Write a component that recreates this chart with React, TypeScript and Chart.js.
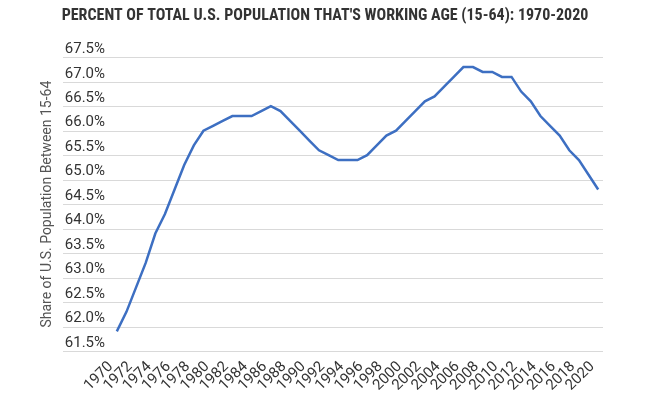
import React, { useEffect, useRef } from 'react';
import { Chart, registerables } from 'chart.js';

Chart.register(...registerables);

const chartTitle = "PERCENT OF TOTAL U.S. POPULATION THAT'S WORKING AGE (15-64): 1970-2020";
const yAxisTitle = 'Share of U.S. Population Between 15-64';

const years = [
  '1970', '1971', '1972', '1973', '1974', '1975', '1976', '1977', '1978', '1979',
  '1980', '1981', '1982', '1983', '1984', '1985', '1986', '1987', '1988', '1989',
  '1990', '1991', '1992', '1993', '1994', '1995', '1996', '1997', '1998', '1999',
  '2000', '2001', '2002', '2003', '2004', '2005', '2006', '2007', '2008', '2009',
  '2010', '2011', '2012', '2013', '2014', '2015', '2016', '2017', '2018', '2019',
  '2020',
];

const workingAgeShare = [
  61.9, 62.3, 62.8, 63.3, 63.9, 64.3, 64.8, 65.3, 65.7, 66.0,
  66.1, 66.2, 66.3, 66.3, 66.3, 66.4, 66.5, 66.4, 66.2, 66.0,
  65.8, 65.6, 65.5, 65.4, 65.4, 65.4, 65.5, 65.7, 65.9, 66.0,
  66.2, 66.4, 66.6, 66.7, 66.9, 67.1, 67.3, 67.3, 67.2, 67.2,
  67.1, 67.1, 66.8, 66.6, 66.3, 66.1, 65.9, 65.6, 65.4, 65.1,
  64.8,
];

const xTickYears = [
  '1970', '1972', '1974', '1976', '1978', '1980', '1982', '1984', '1986', '1988',
  '1990', '1992', '1994', '1996', '1998', '2000', '2002', '2004', '2006', '2008',
  '2010', '2012', '2014', '2016', '2018', '2020',
];

const yMin = 61.5;
const yMax = 67.5;
const yStep = 0.5;

function pickTitleFont(): { family: string; size: number } {
  const ctx = document.createElement('canvas').getContext('2d');
  const target = 550;
  if (!ctx) return { family: 'Roboto', size: 13 };
  const probe = 'PERCENT OF TOTAL ABCDEFGHWM 0123456789';
  const candidates = ['Roboto Condensed', 'Liberation Sans Narrow', 'DejaVu Sans Condensed'];
  let family = 'Roboto';
  for (const c of candidates) {
    ctx.font = `bold 20px monospace`;
    const a = ctx.measureText(probe).width;
    ctx.font = `bold 20px "${c}", monospace`;
    const b = ctx.measureText(probe).width;
    if (Math.abs(a - b) > 0.5) {
      family = c;
      break;
    }
  }
  ctx.font = `bold 15px "${family}"`;
  const w = ctx.measureText(chartTitle).width;
  let size = (15 * target) / w;
  size = Math.max(11, Math.min(16, size));
  return { family, size };
}

const extendedGrid = {
  id: 'extendedGrid',
  beforeDatasetsDraw(chart: any) {
    const { ctx, chartArea, scales } = chart;
    const y = scales.y;
    ctx.save();
    ctx.strokeStyle = '#d9d9d9';
    ctx.lineWidth = 1;
    y.ticks.forEach((t: any) => {
      const py = Math.round(y.getPixelForValue(t.value)) + 0.5;
      ctx.beginPath();
      ctx.moveTo(chartArea.left - 49, py);
      ctx.lineTo(chartArea.right, py);
      ctx.stroke();
    });
    ctx.restore();
  },
};

export default function App() {
  const canvasRef = useRef<HTMLCanvasElement | null>(null);

  useEffect(() => {
    if (!canvasRef.current) return;
    const tf = pickTitleFont();
    const titleTop = 16 - 0.6 * tf.size;
    const titleBottom = 57.3 - titleTop - 1.2 * tf.size;

    const chart = new Chart(canvasRef.current, {
      type: 'line',
      data: {
        labels: years,
        datasets: [
          {
            data: workingAgeShare,
            borderColor: '#3d6fc2',
            borderWidth: 2.5,
            pointRadius: 0,
            tension: 0,
            fill: false,
          },
        ],
      },
      plugins: [extendedGrid],
      options: {
        responsive: false,
        animation: false,
        layout: { padding: { top: 0, right: 0, bottom: 0, left: 0 } },
        plugins: {
          legend: { display: false },
          tooltip: { enabled: false },
          title: {
            display: true,
            text: chartTitle,
            color: '#333333',
            font: { family: tf.family, size: tf.size, weight: 'bold' },
            padding: { top: titleTop, bottom: titleBottom },
          },
        },
        scales: {
          x: {
            type: 'category',
            offset: true,
            grid: { display: false, drawTicks: false },
            border: { display: false },
            ticks: {
              autoSkip: false,
              minRotation: 45,
              maxRotation: 45,
              padding: 7,
              labelOffset: -6,
              color: '#333333',
              font: { family: 'Roboto', size: 15 },
              callback: (_v: any, i: number) => (xTickYears.includes(years[i]) ? years[i] : ''),
            },
            afterFit: (s: any) => {
              s.height = 51;
            },
          },
          y: {
            type: 'linear',
            position: 'left',
            min: yMin,
            max: yMax,
            grid: { display: false, drawTicks: false },
            border: { display: false },
            ticks: {
              stepSize: yStep,
              padding: 7,
              labelOffset: -8,
              color: '#333333',
              font: { family: 'Roboto', size: 15 },
              callback: (v: any) => Number(v).toFixed(1) + '%',
            },
            title: {
              display: true,
              text: yAxisTitle,
              color: '#555555',
              font: { family: 'Roboto', size: 14 },
              padding: { top: 39.5, bottom: 0 },
            },
            afterFit: (s: any) => {
              s.width = 112;
            },
          },
          yRight: {
            type: 'linear',
            position: 'right',
            display: true,
            grid: { display: false, drawTicks: false },
            border: { display: false },
            ticks: { display: false },
            afterFit: (s: any) => {
              s.width = 47;
            },
          },
        },
      },
    } as any);

    return () => chart.destroy();
  }, []);

  return (
    <div style={{ position: 'fixed', left: 0, top: 0, width: 650, height: 402, background: '#ffffff' }}>
      <canvas ref={canvasRef} width={650} height={402} style={{ display: 'block' }} />
    </div>
  );
}
